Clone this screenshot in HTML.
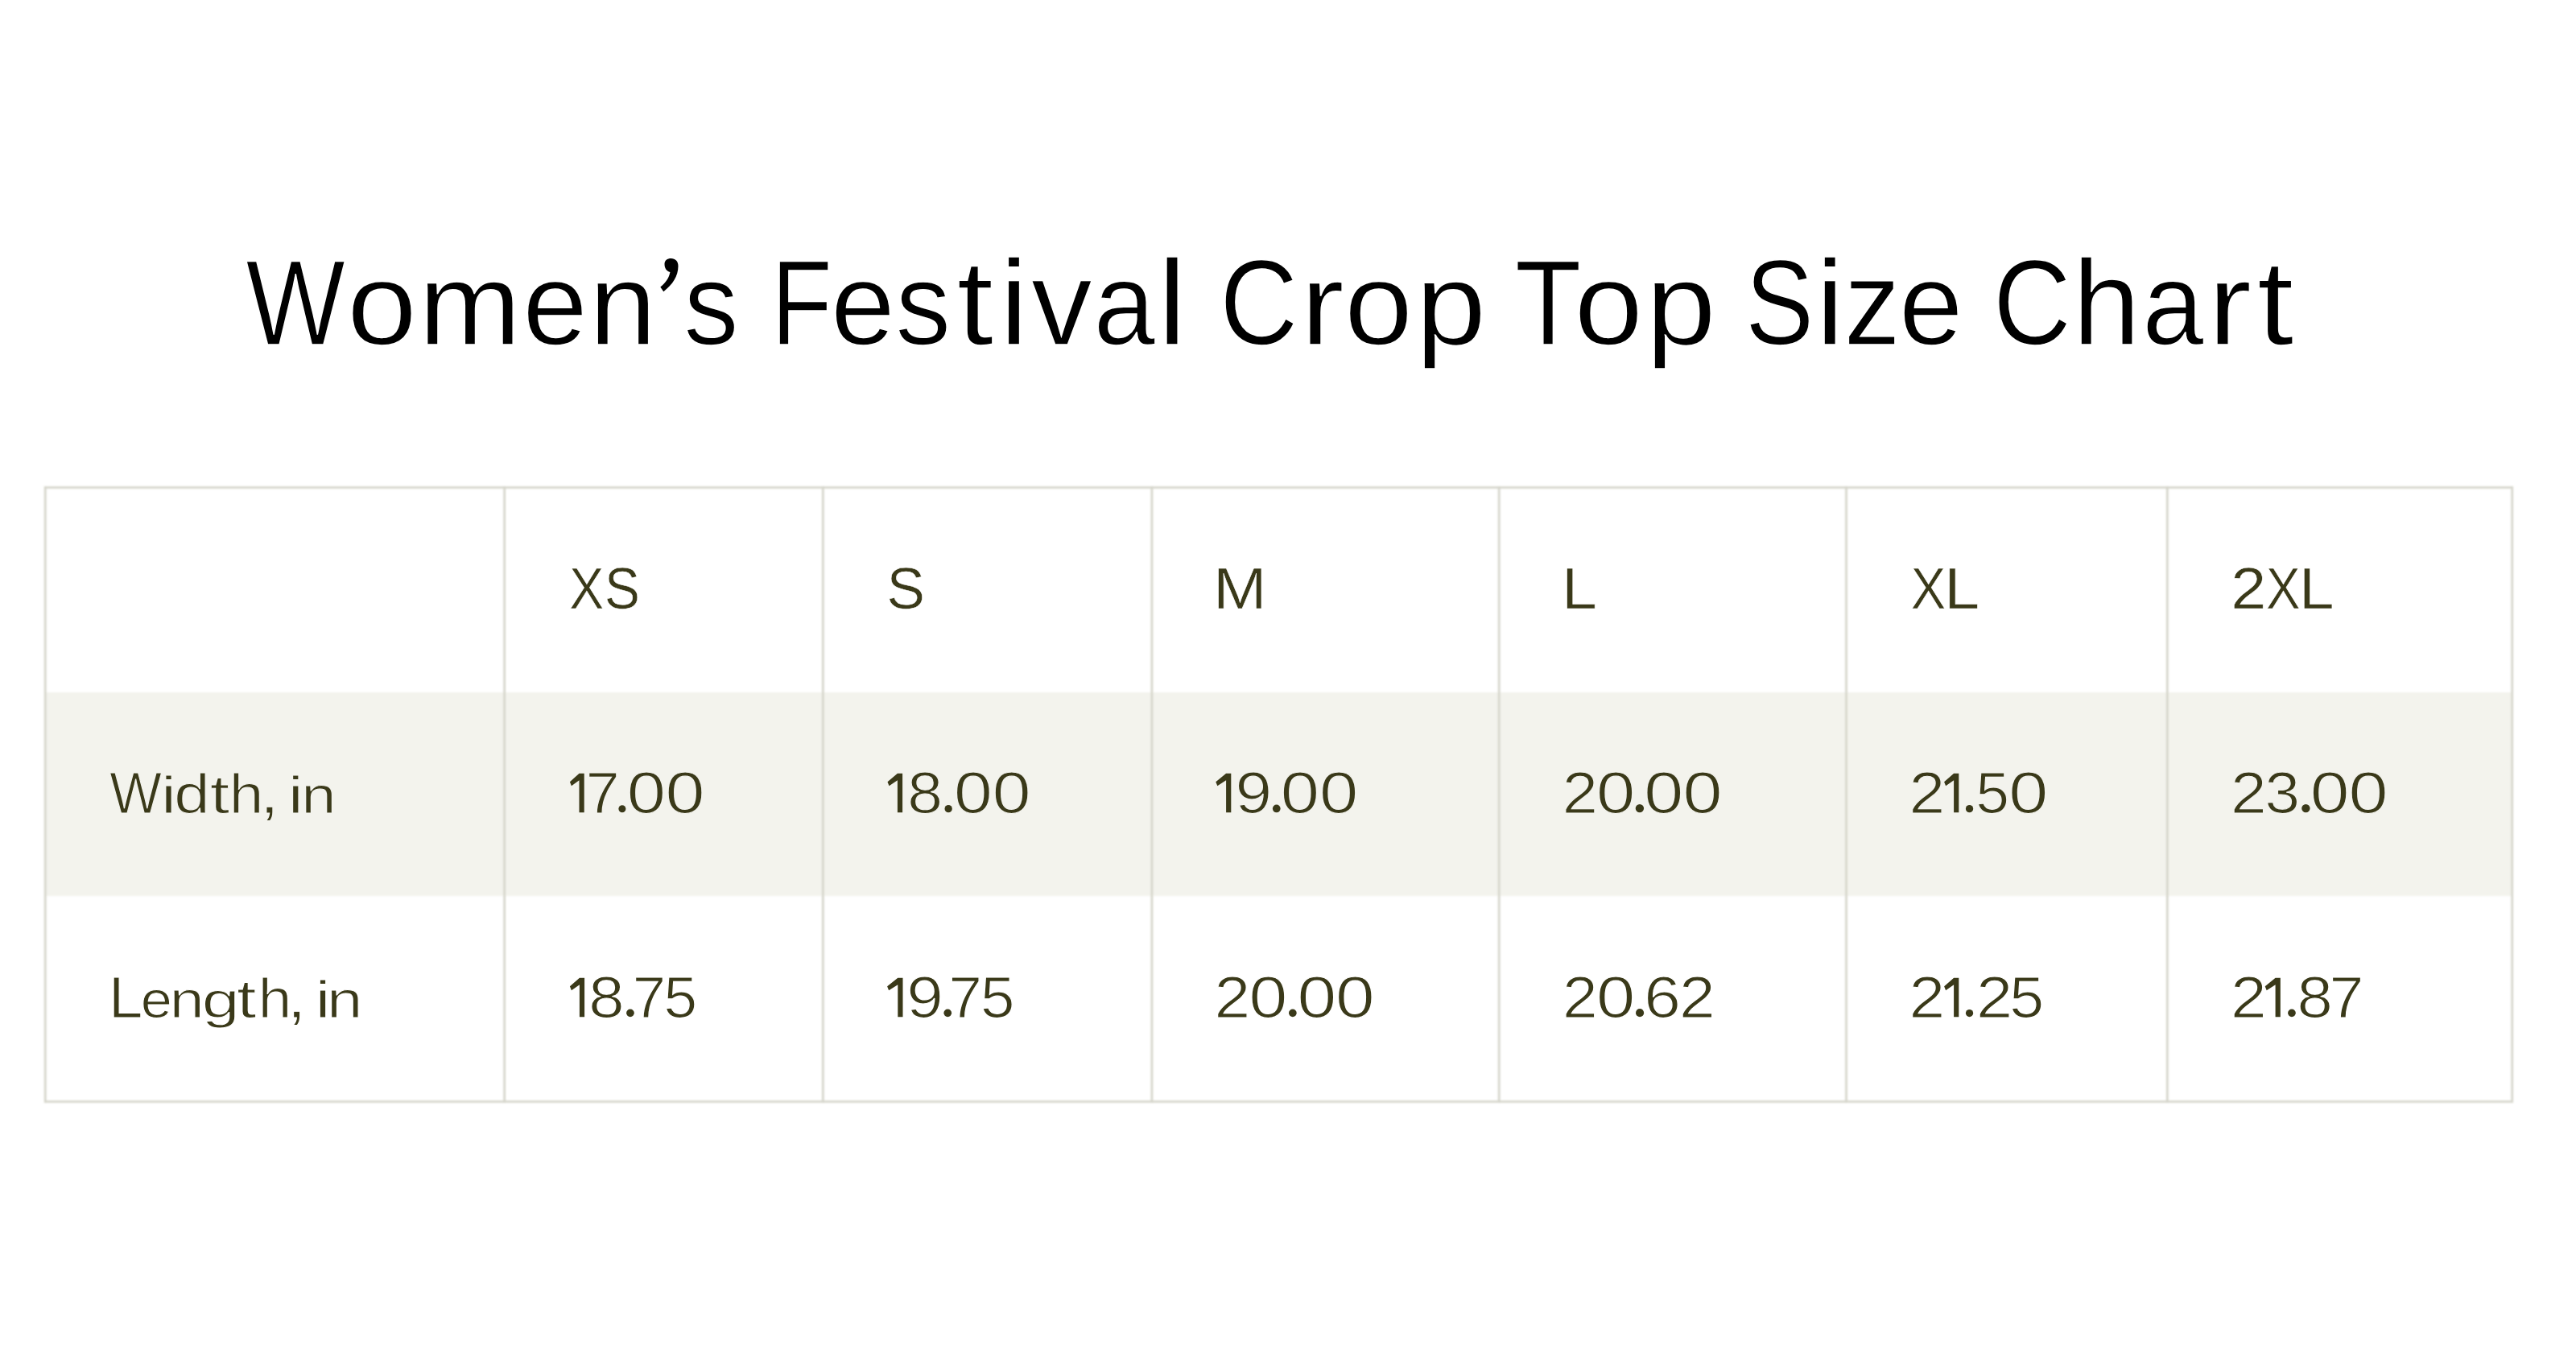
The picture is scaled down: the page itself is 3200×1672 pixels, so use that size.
<!DOCTYPE html>
<html><head><meta charset="utf-8"><title>Women’s Festival Crop Top Size Chart</title>
<style>
html,body{margin:0;padding:0;background:#fff;}
body{width:3200px;height:1672px;overflow:hidden;}
svg{display:block;font-family:"Liberation Sans",sans-serif;}
</style></head><body>
<svg width="3200" height="1672" viewBox="0 0 3200 1672">
<defs><filter id="b1" x="-5%" y="-5%" width="110%" height="110%"><feGaussianBlur stdDeviation="0.9"/></filter></defs>
<g filter="url(#b1)">
<rect x="56.2" y="860" width="3064.5" height="253" fill="#f3f3ed"/>
<rect x="54.90" y="604.30" width="2.6" height="765.40" fill="#d4d4c9"/>
<rect x="625.40" y="604.30" width="2.6" height="765.40" fill="#d4d4c9"/>
<rect x="1021.00" y="604.30" width="2.6" height="765.40" fill="#d4d4c9"/>
<rect x="1429.60" y="604.30" width="2.6" height="765.40" fill="#d4d4c9"/>
<rect x="1860.90" y="604.30" width="2.6" height="765.40" fill="#d4d4c9"/>
<rect x="2292.20" y="604.30" width="2.6" height="765.40" fill="#d4d4c9"/>
<rect x="2691.00" y="604.30" width="2.6" height="765.40" fill="#d4d4c9"/>
<rect x="3119.40" y="604.30" width="2.6" height="765.40" fill="#d4d4c9"/>
<rect x="54.90" y="604.30" width="3067.10" height="2.6" fill="#d4d4c9"/>
<rect x="54.90" y="1367.10" width="3067.10" height="2.6" fill="#d4d4c9"/>
</g>
<text transform="translate(305.39 427.75) scale(0.8741 1.0000)" font-size="149.42" fill="#000000" stroke="#ffffff" stroke-width="1.50">W</text>
<text transform="translate(431.05 427.75) scale(1.0460 0.9700)" font-size="149.42" fill="#000000" stroke="#ffffff" stroke-width="1.50">o</text>
<text transform="translate(519.95 427.75) scale(1.0228 0.9700)" font-size="149.42" fill="#000000" stroke="#ffffff" stroke-width="1.50">m</text>
<text transform="translate(649.18 427.75) scale(0.9705 0.9700)" font-size="149.42" fill="#000000" stroke="#ffffff" stroke-width="1.50">e</text>
<text transform="translate(731.80 427.75) scale(1.0080 0.9700)" font-size="149.42" fill="#000000" stroke="#ffffff" stroke-width="1.50">n</text>
<path d="M825.5 328C825.5 323.6 829 321 833.6 321C838.8 321 842.5 324.5 842.5 330.5C842.5 343 835.5 353.5 824.3 362.2L820.3 356.6C827.3 351 831.2 345 832.4 338C828.3 337.2 825.5 333.2 825.5 328Z" fill="#000000"/>
<text transform="translate(849.41 427.75) scale(0.9097 0.9700)" font-size="149.42" fill="#000000" stroke="#ffffff" stroke-width="1.50">s</text>
<text transform="translate(957.99 427.75) scale(0.8314 1.0000)" font-size="149.42" fill="#000000" stroke="#ffffff" stroke-width="1.50">F</text>
<text transform="translate(1031.95 427.75) scale(0.9603 0.9700)" font-size="149.42" fill="#000000" stroke="#ffffff" stroke-width="1.50">e</text>
<text transform="translate(1112.57 427.75) scale(0.9176 0.9700)" font-size="149.42" fill="#000000" stroke="#ffffff" stroke-width="1.50">s</text>
<text transform="translate(1188.40 427.75) scale(1.1000 1.0000)" font-size="149.42" fill="#000000" stroke="#ffffff" stroke-width="1.50">t</text>
<text transform="translate(1241.36 427.75) scale(1.1000 1.0000)" font-size="149.42" fill="#000000" stroke="#ffffff" stroke-width="1.50">i</text>
<text transform="translate(1280.93 427.75) scale(1.0137 1.0000)" font-size="149.42" fill="#000000" stroke="#ffffff" stroke-width="1.50">v</text>
<text transform="translate(1358.54 427.75) scale(0.9190 0.9700)" font-size="149.42" fill="#000000" stroke="#ffffff" stroke-width="1.50">a</text>
<text transform="translate(1437.86 427.75) scale(1.1000 1.0000)" font-size="149.42" fill="#000000" stroke="#ffffff" stroke-width="1.50">l</text>
<text transform="translate(1515.16 427.75) scale(0.9003 1.0000)" font-size="149.42" fill="#000000" stroke="#ffffff" stroke-width="1.50">C</text>
<text transform="translate(1615.31 427.75) scale(1.1000 0.9700)" font-size="149.42" fill="#000000" stroke="#ffffff" stroke-width="1.50">r</text>
<text transform="translate(1670.01 427.75) scale(1.0228 0.9700)" font-size="149.42" fill="#000000" stroke="#ffffff" stroke-width="1.50">o</text>
<text transform="translate(1758.40 427.75) scale(1.0572 0.9700)" font-size="149.42" fill="#000000" stroke="#ffffff" stroke-width="1.50">p</text>
<text transform="translate(1881.74 427.75) scale(0.9065 1.0000)" font-size="149.42" fill="#000000" stroke="#ffffff" stroke-width="1.50">T</text>
<text transform="translate(1955.47 427.75) scale(1.0286 0.9700)" font-size="149.42" fill="#000000" stroke="#ffffff" stroke-width="1.50">o</text>
<text transform="translate(2044.56 427.75) scale(1.0511 0.9700)" font-size="149.42" fill="#000000" stroke="#ffffff" stroke-width="1.50">p</text>
<text transform="translate(2167.98 427.75) scale(0.8553 1.0000)" font-size="149.42" fill="#000000" stroke="#ffffff" stroke-width="1.50">S</text>
<text transform="translate(2254.96 427.75) scale(1.1000 1.0000)" font-size="149.42" fill="#000000" stroke="#ffffff" stroke-width="1.50">i</text>
<text transform="translate(2290.75 427.75) scale(0.9377 1.0000)" font-size="149.42" fill="#000000" stroke="#ffffff" stroke-width="1.50">z</text>
<text transform="translate(2359.08 427.75) scale(0.9560 0.9700)" font-size="149.42" fill="#000000" stroke="#ffffff" stroke-width="1.50">e</text>
<text transform="translate(2475.98 427.75) scale(0.8981 1.0000)" font-size="149.42" fill="#000000" stroke="#ffffff" stroke-width="1.50">C</text>
<text transform="translate(2574.45 427.75) scale(1.0170 1.0000)" font-size="149.42" fill="#000000" stroke="#ffffff" stroke-width="1.50">h</text>
<text transform="translate(2661.25 427.75) scale(0.9176 0.9700)" font-size="149.42" fill="#000000" stroke="#ffffff" stroke-width="1.50">a</text>
<text transform="translate(2742.46 427.75) scale(1.1000 0.9700)" font-size="149.42" fill="#000000" stroke="#ffffff" stroke-width="1.50">r</text>
<text transform="translate(2803.75 427.75) scale(1.1000 1.0000)" font-size="149.42" fill="#000000" stroke="#ffffff" stroke-width="1.50">t</text>
<text transform="translate(707.25 756.10) scale(0.9028 1.0000)" font-size="71.37" fill="#3a3919" stroke="#ffffff" stroke-width="0.60">X</text>
<text transform="translate(751.09 756.10) scale(0.9225 1.0000)" font-size="71.37" fill="#3a3919" stroke="#ffffff" stroke-width="0.60">S</text>
<text transform="translate(1101.43 756.10) scale(0.9966 1.0000)" font-size="71.37" fill="#3a3919" stroke="#ffffff" stroke-width="0.60">S</text>
<text transform="translate(1507.11 756.10) scale(1.1200 1.0000)" font-size="71.37" fill="#3a3919" stroke="#ffffff" stroke-width="0.60">M</text>
<text transform="translate(1940.10 756.10) scale(1.1045 1.0000)" font-size="71.37" fill="#3a3919" stroke="#ffffff" stroke-width="0.60">L</text>
<text transform="translate(2373.73 756.10) scale(0.9120 1.0000)" font-size="71.37" fill="#3a3919" stroke="#ffffff" stroke-width="0.60">X</text>
<text transform="translate(2415.28 756.10) scale(1.1078 1.0000)" font-size="71.37" fill="#3a3919" stroke="#ffffff" stroke-width="0.60">L</text>
<text transform="translate(2771.21 756.10) scale(1.1082 1.0000)" font-size="71.37" fill="#3a3919" stroke="#ffffff" stroke-width="0.60">2</text>
<text transform="translate(2814.96 756.10) scale(0.8937 1.0000)" font-size="71.37" fill="#3a3919" stroke="#ffffff" stroke-width="0.60">X</text>
<text transform="translate(2855.70 756.10) scale(1.1045 1.0000)" font-size="71.37" fill="#3a3919" stroke="#ffffff" stroke-width="0.60">L</text>
<text transform="translate(136.19 1009.90) scale(0.9481 1.0000)" font-size="72.24" fill="#3a3919" stroke="#f3f3ee" stroke-width="1.20">W</text>
<text transform="translate(199.87 1009.90) scale(1.2200 0.8900)" font-size="72.24" fill="#3a3919" stroke="#f3f3ee" stroke-width="1.20">i</text>
<text transform="translate(216.18 1009.90) scale(1.1052 0.9500)" font-size="72.24" fill="#3a3919" stroke="#f3f3ee" stroke-width="1.20">d</text>
<text transform="translate(260.75 1009.90) scale(1.2200 0.9250)" font-size="72.24" fill="#3a3919" stroke="#f3f3ee" stroke-width="1.20">t</text>
<text transform="translate(284.87 1009.90) scale(1.0620 0.9500)" font-size="72.24" fill="#3a3919" stroke="#f3f3ee" stroke-width="1.20">h</text>
<text transform="translate(322.45 1009.90) scale(1.2200 1.0000)" font-size="72.24" fill="#3a3919" stroke="#f3f3ee" stroke-width="1.20">,</text>
<text transform="translate(357.47 1009.90) scale(1.2200 0.8900)" font-size="72.24" fill="#3a3919" stroke="#f3f3ee" stroke-width="1.20">i</text>
<text transform="translate(374.31 1009.90) scale(1.0779 0.8900)" font-size="72.24" fill="#3a3919" stroke="#f3f3ee" stroke-width="1.20">n</text>
<path d="M719.50 960.80H725.70V1009.30H719.50V969.30L709.90 976.30L707.90 971.30Z" fill="#3a3919"/>
<text transform="translate(727.84 1009.90) scale(1.0420 1.0000)" font-size="72.24" fill="#3a3919" stroke="#f3f3ee" stroke-width="1.20">7</text>
<circle cx="772.90" cy="1004.80" r="4.50" fill="#3a3919"/>
<text transform="translate(778.70 1009.90) scale(1.2001 1.0000)" font-size="72.24" fill="#3a3919" stroke="#f3f3ee" stroke-width="1.20">0</text>
<text transform="translate(826.40 1009.90) scale(1.2200 1.0000)" font-size="72.24" fill="#3a3919" stroke="#f3f3ee" stroke-width="1.20">0</text>
<path d="M1114.90 960.80H1121.10V1009.30H1114.90V969.30L1104.50 976.30L1102.50 971.30Z" fill="#3a3919"/>
<text transform="translate(1127.16 1009.90) scale(1.0900 1.0000)" font-size="72.24" fill="#3a3919" stroke="#f3f3ee" stroke-width="1.20">8</text>
<circle cx="1178.15" cy="1004.65" r="4.65" fill="#3a3919"/>
<text transform="translate(1184.94 1009.90) scale(1.1881 1.0000)" font-size="72.24" fill="#3a3919" stroke="#f3f3ee" stroke-width="1.20">0</text>
<text transform="translate(1232.74 1009.90) scale(1.1881 1.0000)" font-size="72.24" fill="#3a3919" stroke="#f3f3ee" stroke-width="1.20">0</text>
<path d="M1523.10 960.80H1529.30V1009.30H1523.10V969.30L1512.30 976.30L1510.30 971.30Z" fill="#3a3919"/>
<text transform="translate(1534.47 1009.90) scale(1.1345 1.0000)" font-size="72.24" fill="#3a3919" stroke="#f3f3ee" stroke-width="1.20">9</text>
<circle cx="1585.75" cy="1004.45" r="4.85" fill="#3a3919"/>
<text transform="translate(1590.80 1009.90) scale(1.2001 1.0000)" font-size="72.24" fill="#3a3919" stroke="#f3f3ee" stroke-width="1.20">0</text>
<text transform="translate(1638.90 1009.90) scale(1.2001 1.0000)" font-size="72.24" fill="#3a3919" stroke="#f3f3ee" stroke-width="1.20">0</text>
<text transform="translate(1940.87 1009.90) scale(1.0995 1.0000)" font-size="72.24" fill="#3a3919" stroke="#f3f3ee" stroke-width="1.20">2</text>
<text transform="translate(1982.90 1009.90) scale(1.2001 1.0000)" font-size="72.24" fill="#3a3919" stroke="#f3f3ee" stroke-width="1.20">0</text>
<circle cx="2036.90" cy="1004.10" r="5.20" fill="#3a3919"/>
<text transform="translate(2042.30 1009.90) scale(1.2200 1.0000)" font-size="72.24" fill="#3a3919" stroke="#f3f3ee" stroke-width="1.20">0</text>
<text transform="translate(2090.60 1009.90) scale(1.2200 1.0000)" font-size="72.24" fill="#3a3919" stroke="#f3f3ee" stroke-width="1.20">0</text>
<text transform="translate(2371.62 1009.90) scale(1.1121 1.0000)" font-size="72.24" fill="#3a3919" stroke="#f3f3ee" stroke-width="1.20">2</text>
<path d="M2427.10 960.80H2433.30V1009.30H2427.10V969.30L2417.10 976.30L2415.10 971.30Z" fill="#3a3919"/>
<circle cx="2446.55" cy="1004.65" r="4.65" fill="#3a3919"/>
<text transform="translate(2454.60 1009.90) scale(1.0321 1.0000)" font-size="72.24" fill="#3a3919" stroke="#f3f3ee" stroke-width="1.20">5</text>
<text transform="translate(2495.20 1009.90) scale(1.2200 1.0000)" font-size="72.24" fill="#3a3919" stroke="#f3f3ee" stroke-width="1.20">0</text>
<text transform="translate(2771.02 1009.90) scale(1.1121 1.0000)" font-size="72.24" fill="#3a3919" stroke="#f3f3ee" stroke-width="1.20">2</text>
<text transform="translate(2813.58 1009.90) scale(1.0835 1.0000)" font-size="72.24" fill="#3a3919" stroke="#f3f3ee" stroke-width="1.20">3</text>
<circle cx="2864.40" cy="1004.10" r="5.20" fill="#3a3919"/>
<text transform="translate(2869.76 1009.90) scale(1.2121 1.0000)" font-size="72.24" fill="#3a3919" stroke="#f3f3ee" stroke-width="1.20">0</text>
<text transform="translate(2917.55 1009.90) scale(1.2200 1.0000)" font-size="72.24" fill="#3a3919" stroke="#f3f3ee" stroke-width="1.20">0</text>
<text transform="translate(134.76 1263.80) scale(1.0634 1.0000)" font-size="72.24" fill="#3a3919" stroke="#ffffff" stroke-width="1.20">L</text>
<text transform="translate(174.66 1263.80) scale(0.9740 0.8900)" font-size="72.24" fill="#3a3919" stroke="#ffffff" stroke-width="1.20">e</text>
<text transform="translate(210.87 1263.80) scale(1.0677 0.8900)" font-size="72.24" fill="#3a3919" stroke="#ffffff" stroke-width="1.20">n</text>
<text transform="translate(250.86 1263.80) scale(1.1659 0.8800)" font-size="72.24" fill="#3a3919" stroke="#ffffff" stroke-width="1.20">g</text>
<text transform="translate(294.10 1263.80) scale(1.2200 0.9250)" font-size="72.24" fill="#3a3919" stroke="#ffffff" stroke-width="1.20">t</text>
<text transform="translate(320.72 1263.80) scale(1.0347 0.9500)" font-size="72.24" fill="#3a3919" stroke="#ffffff" stroke-width="1.20">h</text>
<text transform="translate(356.20 1263.80) scale(1.2200 1.0000)" font-size="72.24" fill="#3a3919" stroke="#ffffff" stroke-width="1.20">,</text>
<text transform="translate(391.27 1263.80) scale(1.2200 0.8900)" font-size="72.24" fill="#3a3919" stroke="#ffffff" stroke-width="1.20">i</text>
<text transform="translate(405.97 1263.80) scale(1.1050 0.8900)" font-size="72.24" fill="#3a3919" stroke="#ffffff" stroke-width="1.20">n</text>
<path d="M719.90 1214.70H726.10V1263.20H719.90V1223.20L709.90 1230.20L707.90 1225.20Z" fill="#3a3919"/>
<text transform="translate(731.31 1263.80) scale(1.1022 1.0000)" font-size="72.24" fill="#3a3919" stroke="#ffffff" stroke-width="1.20">8</text>
<circle cx="782.95" cy="1258.35" r="4.85" fill="#3a3919"/>
<text transform="translate(785.79 1263.80) scale(1.0294 1.0000)" font-size="72.24" fill="#3a3919" stroke="#ffffff" stroke-width="1.20">7</text>
<text transform="translate(824.59 1263.80) scale(1.0351 1.0000)" font-size="72.24" fill="#3a3919" stroke="#ffffff" stroke-width="1.20">5</text>
<path d="M1115.30 1214.70H1121.50V1263.20H1115.30V1223.20L1104.10 1230.20L1102.10 1225.20Z" fill="#3a3919"/>
<text transform="translate(1126.27 1263.80) scale(1.1345 1.0000)" font-size="72.24" fill="#3a3919" stroke="#ffffff" stroke-width="1.20">9</text>
<circle cx="1177.25" cy="1258.35" r="4.85" fill="#3a3919"/>
<text transform="translate(1178.39 1263.80) scale(1.0294 1.0000)" font-size="72.24" fill="#3a3919" stroke="#ffffff" stroke-width="1.20">7</text>
<text transform="translate(1218.01 1263.80) scale(1.0563 1.0000)" font-size="72.24" fill="#3a3919" stroke="#ffffff" stroke-width="1.20">5</text>
<text transform="translate(1508.62 1263.80) scale(1.1121 1.0000)" font-size="72.24" fill="#3a3919" stroke="#ffffff" stroke-width="1.20">2</text>
<text transform="translate(1551.54 1263.80) scale(1.1881 1.0000)" font-size="72.24" fill="#3a3919" stroke="#ffffff" stroke-width="1.20">0</text>
<circle cx="1605.85" cy="1258.35" r="4.85" fill="#3a3919"/>
<text transform="translate(1611.56 1263.80) scale(1.2121 1.0000)" font-size="72.24" fill="#3a3919" stroke="#ffffff" stroke-width="1.20">0</text>
<text transform="translate(1658.97 1263.80) scale(1.2091 1.0000)" font-size="72.24" fill="#3a3919" stroke="#ffffff" stroke-width="1.20">0</text>
<text transform="translate(1940.92 1263.80) scale(1.0869 1.0000)" font-size="72.24" fill="#3a3919" stroke="#ffffff" stroke-width="1.20">2</text>
<text transform="translate(1982.90 1263.80) scale(1.2001 1.0000)" font-size="72.24" fill="#3a3919" stroke="#ffffff" stroke-width="1.20">0</text>
<circle cx="2037.05" cy="1258.15" r="5.05" fill="#3a3919"/>
<text transform="translate(2042.33 1263.80) scale(1.1370 1.0000)" font-size="72.24" fill="#3a3919" stroke="#ffffff" stroke-width="1.20">6</text>
<text transform="translate(2086.02 1263.80) scale(1.1121 1.0000)" font-size="72.24" fill="#3a3919" stroke="#ffffff" stroke-width="1.20">2</text>
<text transform="translate(2371.62 1263.80) scale(1.1121 1.0000)" font-size="72.24" fill="#3a3919" stroke="#ffffff" stroke-width="1.20">2</text>
<path d="M2427.10 1214.70H2433.30V1263.20H2427.10V1223.20L2417.10 1230.20L2415.10 1225.20Z" fill="#3a3919"/>
<circle cx="2446.55" cy="1258.55" r="4.65" fill="#3a3919"/>
<text transform="translate(2454.96 1263.80) scale(1.1247 1.0000)" font-size="72.24" fill="#3a3919" stroke="#ffffff" stroke-width="1.20">2</text>
<text transform="translate(2496.37 1263.80) scale(1.0684 1.0000)" font-size="72.24" fill="#3a3919" stroke="#ffffff" stroke-width="1.20">5</text>
<text transform="translate(2771.02 1263.80) scale(1.1121 1.0000)" font-size="72.24" fill="#3a3919" stroke="#ffffff" stroke-width="1.20">2</text>
<path d="M2826.60 1214.70H2832.80V1263.20H2826.60V1223.20L2815.70 1230.20L2813.70 1225.20Z" fill="#3a3919"/>
<circle cx="2846.95" cy="1258.35" r="4.85" fill="#3a3919"/>
<text transform="translate(2853.51 1263.80) scale(1.1022 1.0000)" font-size="72.24" fill="#3a3919" stroke="#ffffff" stroke-width="1.20">8</text>
<text transform="translate(2893.43 1263.80) scale(1.0673 1.0000)" font-size="72.24" fill="#3a3919" stroke="#ffffff" stroke-width="1.20">7</text>
</svg>
</body></html>
